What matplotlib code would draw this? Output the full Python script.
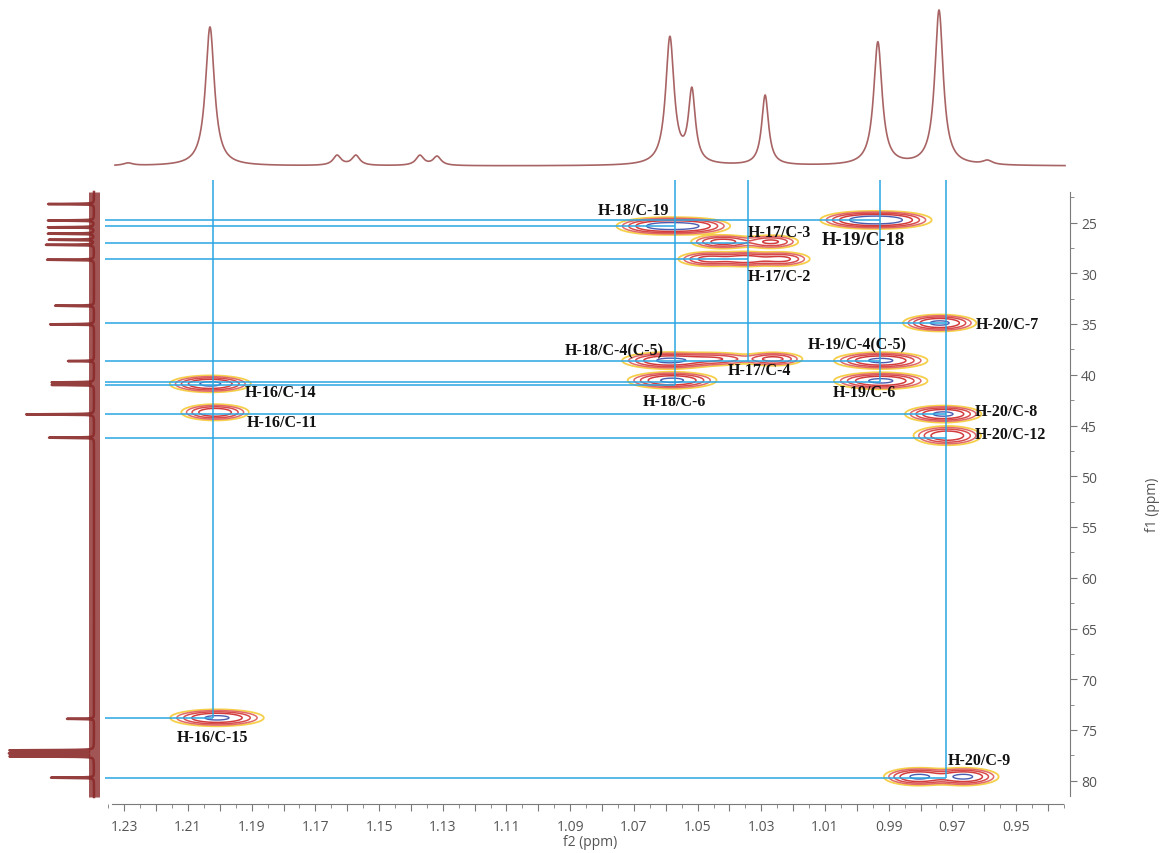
import numpy as np
import matplotlib
matplotlib.use('Agg')
import matplotlib.pyplot as plt
from matplotlib.ticker import MultipleLocator, FuncFormatter

# ---------------- data ----------------
# 1H spectrum (top trace): peak positions (ppm), heights, half-widths
h1_pos = [1.2288, 1.2031, 1.1632, 1.1573, 1.1372, 1.1318, 1.0587, 1.0518, 1.0288, 0.9934, 0.9742, 0.9590]
h1_hgt = [2.5, 139, 10, 10, 10, 9, 127, 72, 70, 123, 155, 4]
h1_wid = [0.0018, 0.0017, 0.0015, 0.0015, 0.0015, 0.0015, 0.0016, 0.0013, 0.0013, 0.0016, 0.0016, 0.0018]

# 13C spectrum (left trace): peak positions (ppm) and heights
c13_pos = [23.18, 24.80, 25.47, 26.10, 26.70, 27.20, 28.67, 33.20, 35.03, 38.65, 40.75, 41.00,
           43.90, 46.20, 73.90, 77.00, 77.30, 77.60, 79.70]
c13_hgt = [46, 46, 46, 46, 45, 48, 47, 39, 44, 26, 42, 42, 68, 45, 27, 84, 84, 84, 43]
c13_noise = 5.5

# HMBC cross peaks: (1H ppm, 13C ppm, amplitude, sigma_H, sigma_C)
xp_h = [1.0620, 1.0530, 0.9980, 0.9900, 1.0420, 1.0270, 1.0460, 1.0350, 1.0240, 0.9740,
        1.0590, 1.0450, 1.0263, 1.0580, 0.9925, 0.9925, 0.9729, 0.9716, 1.2030, 1.2015,
        1.2009, 0.9805, 0.9665]
xp_c = [25.35, 25.35, 24.75, 24.75, 26.90, 26.90, 28.60, 28.60, 28.60, 34.90,
        38.60, 38.45, 38.45, 40.55, 38.60, 40.60, 43.87, 46.00, 40.90, 43.70,
        73.80, 79.60, 79.60]
xp_a = [1.0, 0.9, 1.0, 1.0, 0.6, 0.5, 0.6, 0.7, 0.55, 1.0,
        1.0, 0.45, 0.55, 1.0, 1.0, 1.0, 1.0, 0.8, 1.0, 0.8,
        1.0, 1.0, 1.0]
xp_sh = [0.0055, 0.0055, 0.0055, 0.0055, 0.0045, 0.0040, 0.0045, 0.0042, 0.0042, 0.0047,
         0.0060, 0.0060, 0.0042, 0.0057, 0.0060, 0.0060, 0.0049, 0.0045, 0.0052, 0.0045,
         0.0060, 0.0045, 0.0045]
xp_sc = [0.34, 0.34, 0.34, 0.34, 0.30, 0.30, 0.32, 0.32, 0.32, 0.34,
         0.34, 0.30, 0.30, 0.34, 0.34, 0.34, 0.34, 0.40, 0.34, 0.34,
         0.34, 0.36, 0.36]

# correlation guide lines
hline_c = [24.75, 25.35, 27.05, 28.57, 34.90, 38.60, 40.74, 41.00, 43.87, 46.20, 73.80, 79.70]
hline_end_h = [0.9927, 1.0571, 1.0342, 1.0342, 0.9720, 0.9927, 0.9927, 1.0571, 0.9720, 0.9720, 1.2022, 0.9720]
vline_h = [1.2022, 1.0571, 1.0342, 0.9927, 0.9720]
vline_end_c = [73.80, 41.00, 38.60, 40.74, 79.70]

# labels
lab_txt = ['H-18/C-19', 'H-17/C-3', 'H-19/C-18', 'H-17/C-2', 'H-20/C-7', 'H-18/C-4(C-5)',
           'H-19/C-4(C-5)', 'H-17/C-4', 'H-18/C-6', 'H-19/C-6', 'H-16/C-14', 'H-16/C-11',
           'H-16/C-15', 'H-20/C-8', 'H-20/C-12', 'H-20/C-9']
lab_h = [1.0813, 1.0342, 1.0110, 1.0342, 0.9626, 1.0916, 1.0153, 1.0405, 1.0671, 1.0075,
         1.1921, 1.1915, 1.2135, 0.9629, 0.9629, 0.9714]
lab_c = [23.77, 25.94, 26.63, 30.27, 35.00, 37.56, 36.97, 39.53, 42.59, 41.70,
         41.70, 44.66, 75.69, 43.57, 45.84, 77.96]
lab_size = [11.5, 11.5, 13.5, 11.5, 11.5, 11.5, 11.5, 11.5, 11.5, 11.5,
            11.5, 11.5, 11.5, 11.5, 11.5, 11.5]

# ---------------- layout ----------------
W, H = 1165, 854
fig = plt.figure(figsize=(W / 100, H / 100), dpi=100)

def h_of(px):
    return 1.23 - (px - 124.3) / 3185.0

def c_of(py):
    return 35.0 + (py - 325.0) / 10.15

def add_px_axes(x0, y0, x1, y1):
    return fig.add_axes([x0 / W, 1 - y1 / H, (x1 - x0) / W, (y1 - y0) / H])

ax = add_px_axes(105, 181, 1070, 805)
ax.set_xlim(h_of(105), h_of(1070))
ax.set_ylim(c_of(805), c_of(181))

axt = add_px_axes(105, 5, 1070, 172)
axt.set_xlim(h_of(105), h_of(1070))
axt.set_ylim(-5, 162)
axt.axis('off')

axl = add_px_axes(5, 181, 103, 805)
axl.set_ylim(c_of(805), c_of(181))
axl.set_xlim(89, -9)
axl.axis('off')

blue = '#2ba6e1'
gray = '#7a7a7a'

# top 1H trace
hx = np.linspace(h_of(115), h_of(1065), 8000)
hy = np.zeros_like(hx)
for p, a, w in zip(h1_pos, h1_hgt, h1_wid):
    hy += a * w ** 2 / ((hx - p) ** 2 + w ** 2)
axt.plot(hx, hy, color='#a86464', lw=1.2)

# left 13C trace
cy = np.linspace(c_of(193), c_of(798), 20000)
cx = np.zeros_like(cy)
for p, a in zip(c13_pos, c13_hgt):
    w = 0.025
    cx += a * w ** 2 / ((cy - p) ** 2 + w ** 2)
axl.fill_betweenx(cy, -c13_noise, c13_noise, color='#8b2a2a', alpha=0.8, lw=0)
axl.plot(cx, cy, color='#8b2a2a', lw=1.8, alpha=0.9)

# 2D contours
gx = np.linspace(0.93, 1.24, 1400)
gy = np.linspace(20.0, 83.0, 1500)
GX, GY = np.meshgrid(gx, gy)
Z = np.zeros_like(GX)
for h, c, a, sh, sc in zip(xp_h, xp_c, xp_a, xp_sh, xp_sc):
    Z += a * np.exp(-0.5 * (((GX - h) / sh) ** 2 + ((GY - c) / sc) ** 2))
levels = [0.05, 0.11, 0.22, 0.42, 0.82]
colors = ['#f6cf4a', '#e06a6a', '#d94c4c', '#d23c3c', '#4a5db0']
ax.contour(GX, GY, Z, levels=levels, colors=colors, linewidths=[1.3, 1.1, 1.1, 1.1, 1.0])

# guide lines
x_left = h_of(105)
for c, he in zip(hline_c, hline_end_h):
    ax.plot([x_left, he], [c, c], color=blue, lw=1.1, solid_capstyle='butt')
y_top = c_of(181)
for h, ce in zip(vline_h, vline_end_c):
    ax.plot([h, h], [y_top, ce], color=blue, lw=1.1, solid_capstyle='butt')

# labels
for t, h, c, s in zip(lab_txt, lab_h, lab_c, lab_size):
    ax.text(h, c, t, ha='left', va='center', fontsize=s, fontweight='bold',
            family='Liberation Serif', color='#111111')

# axes styling
for s in ['top', 'left']:
    ax.spines[s].set_visible(False)
ax.spines['bottom'].set_color(gray)
ax.spines['right'].set_color(gray)
ax.spines['bottom'].set_bounds(h_of(111.7), h_of(1063))
ax.spines['right'].set_bounds(c_of(193), c_of(797))
ax.yaxis.tick_right()
ax.xaxis.set_major_locator(MultipleLocator(0.01))
ax.xaxis.set_minor_locator(MultipleLocator(0.005))

def xfmt(v, pos):
    k = int(round(v * 100))
    return f'{v:.2f}' if k % 2 == 1 else ''

ax.xaxis.set_major_formatter(FuncFormatter(xfmt))
ax.yaxis.set_major_locator(MultipleLocator(5))
ax.yaxis.set_minor_locator(MultipleLocator(2.5))
ax.tick_params(axis='both', which='major', length=5, color=gray, labelcolor='#555555',
               labelsize=10)
ax.tick_params(axis='both', which='minor', length=3, color=gray)
ax.tick_params(axis='x', pad=6)
ax.tick_params(axis='y', pad=3)
for lab in ax.get_xticklabels() + ax.get_yticklabels():
    lab.set_family('Open Sans')

fig.text(590 / W, 1 - 843 / H, 'f2 (ppm)', ha='center', va='center', fontsize=10,
         color='#555555', family='Open Sans')
fig.text(1153 / W, 1 - 505 / H, 'f1 (ppm)', ha='center', va='center', fontsize=10,
         color='#555555', family='Open Sans', rotation=90)

fig.savefig('out.png', dpi=100)
